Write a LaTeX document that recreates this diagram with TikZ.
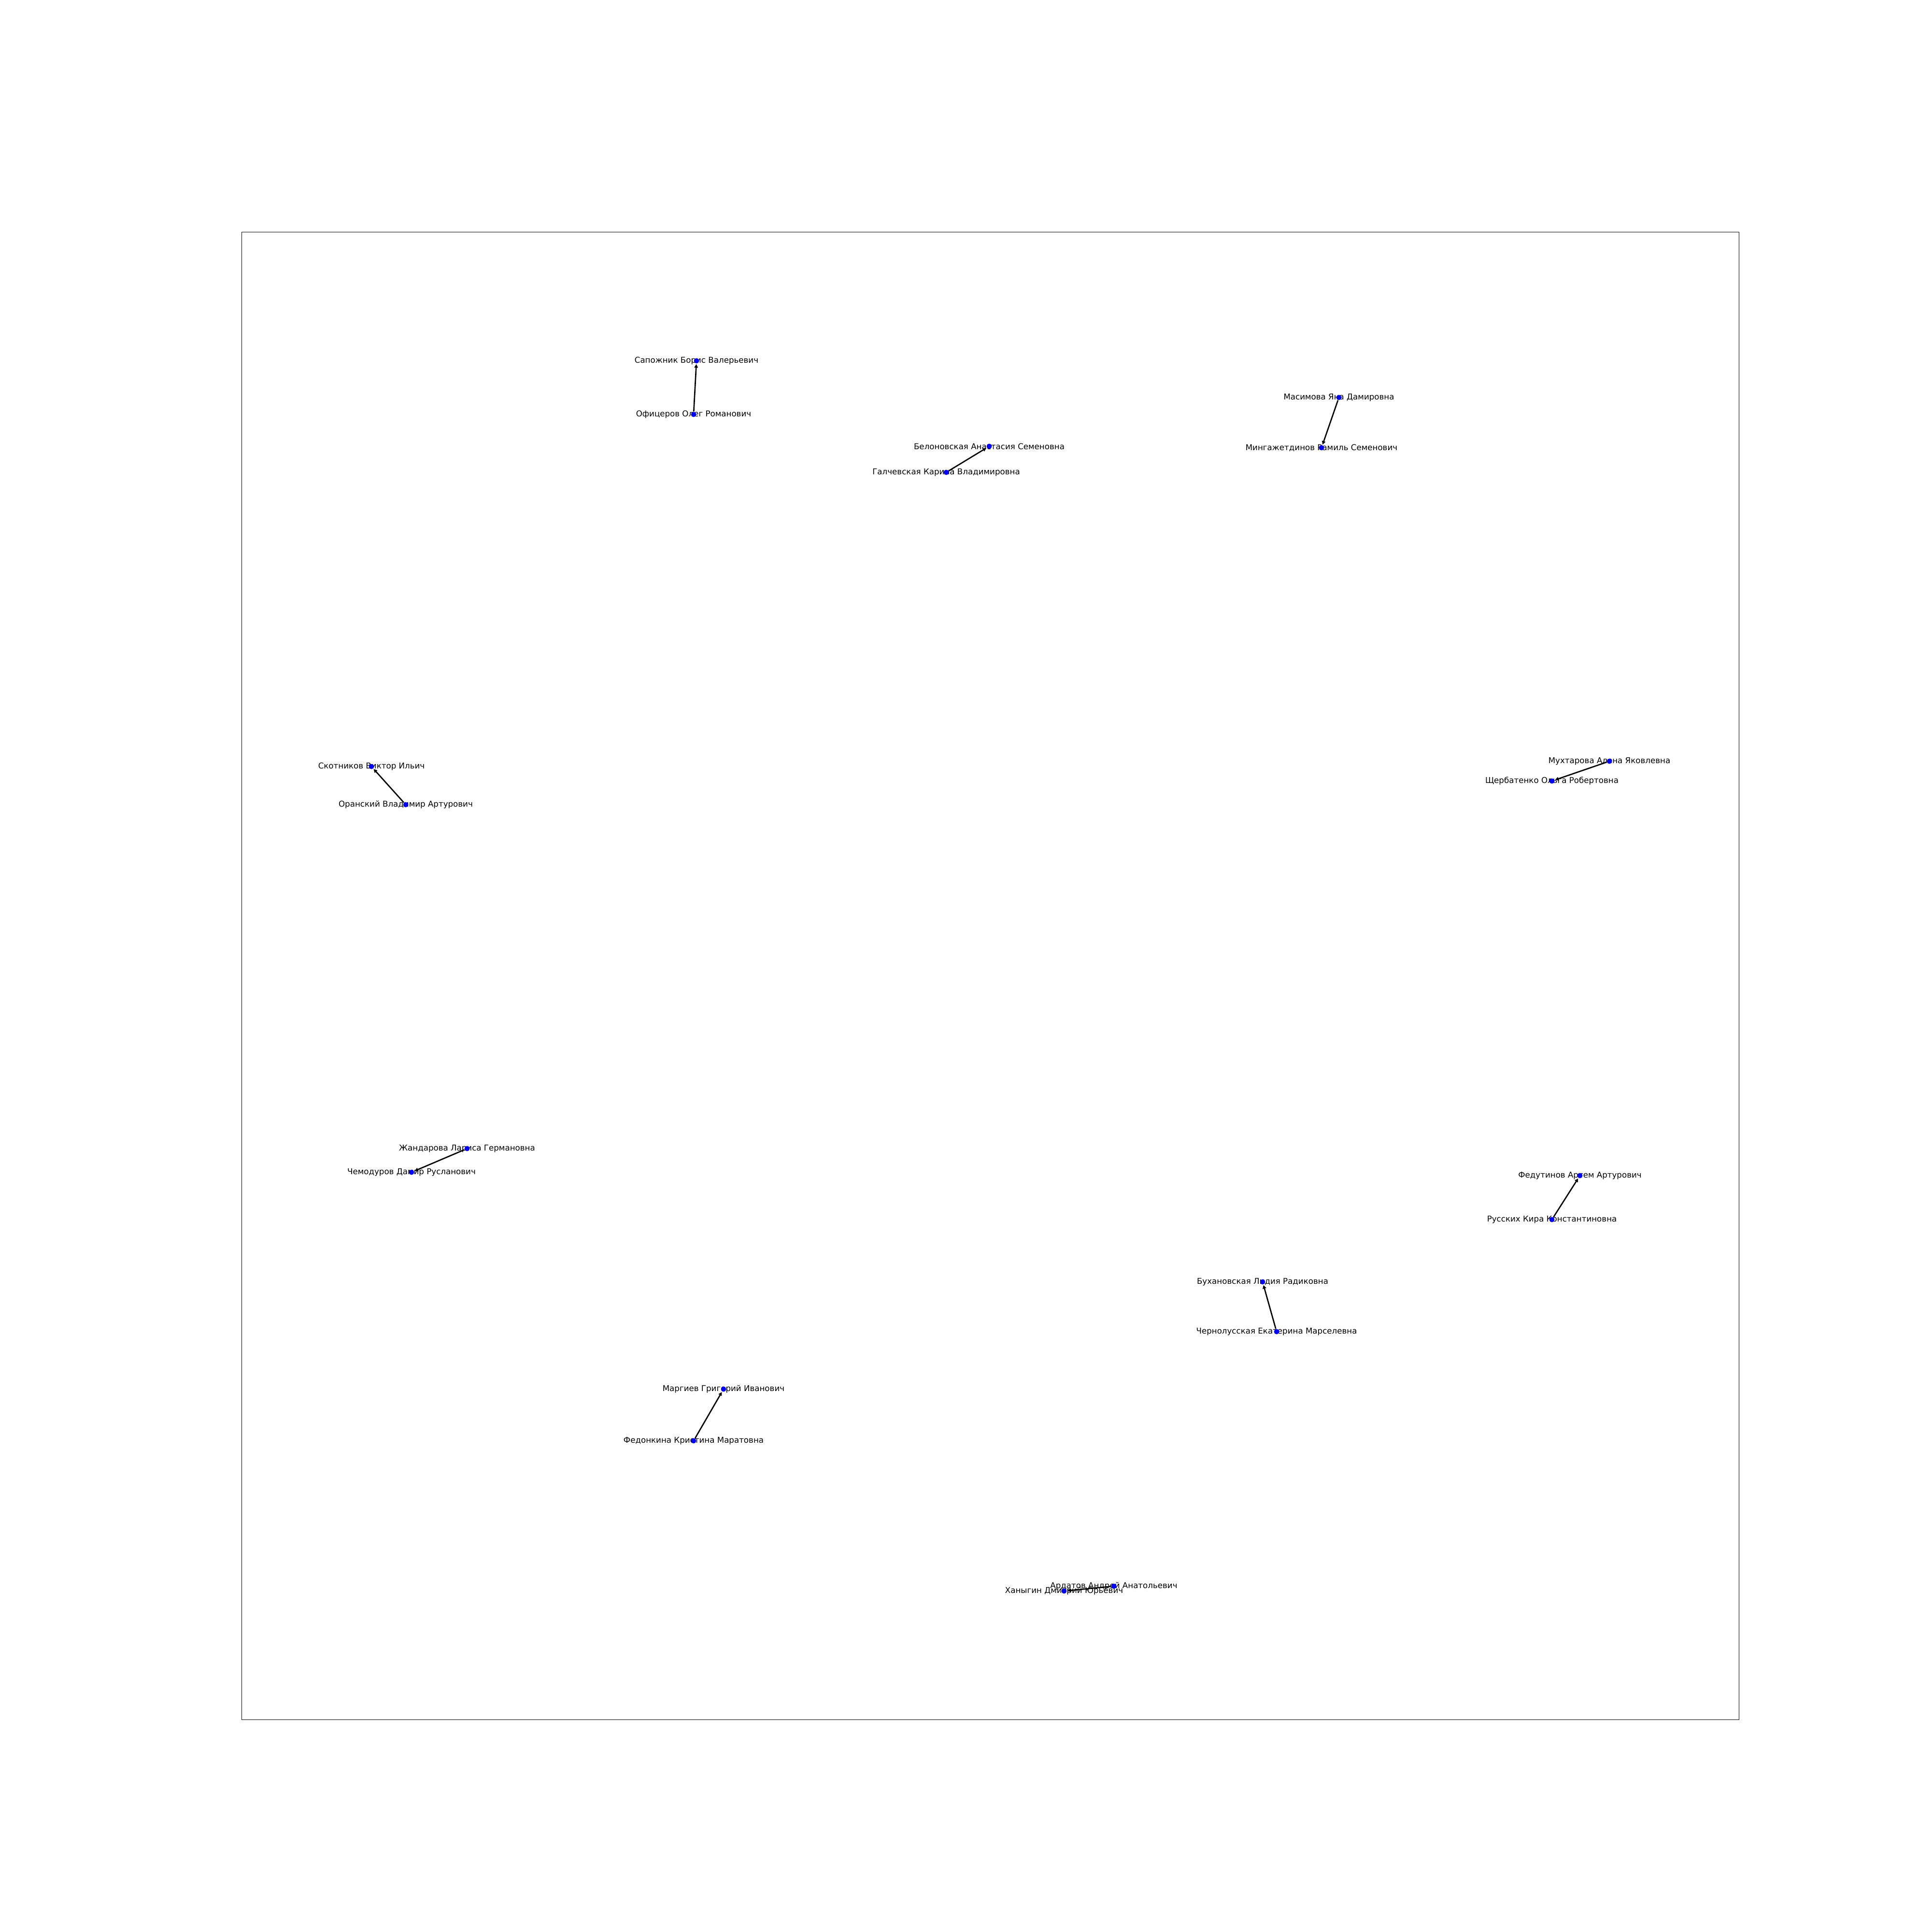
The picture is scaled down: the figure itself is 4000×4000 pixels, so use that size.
\documentclass[tikz,border=0pt]{standalone}
\usepackage{fontspec}
\setmainfont{DejaVu Sans}
\usetikzlibrary{arrows.meta}
\begin{document}
\begin{tikzpicture}[x=0.01cm,y=-0.01cm,
  dot/.style={circle,fill=blue,inner sep=0pt,minimum size=3.1pt},
  lbl/.style={inner sep=0pt,font=\fontsize{4.74}{5.7}\selectfont,text=black},
  edge/.style={line width=0.75pt,black,-{Triangle[length=2.1pt,width=2.1pt]},shorten >=0.2pt}]
\useasboundingbox (0,0) rectangle (4000,4000);
\fill[white] (0,0) rectangle (4000,4000);
\draw[line width=0.28pt] (500,480) rectangle (3600,3560);
% labels
\node[lbl] (lsap) at (1442,747) {Сапожник Борис Валерьевич};
\node[lbl] (lofi) at (1436,858) {Офицеров Олег Романович};
\node[lbl] (lbel) at (2048,924) {Белоновская Анастасия Семеновна};
\node[lbl] (lgal) at (1959,978) {Галчевская Карина Владимировна};
\node[lbl] (lmas) at (2772,823) {Масимова Яна Дамировна};
\node[lbl] (lmin) at (2736,927) {Мингажетдинов Рамиль Семенович};
\node[lbl] (lsko) at (769,1587) {Скотников Виктор Ильич};
\node[lbl] (lora) at (840,1666) {Оранский Владимир Артурович};
\node[lbl] (lmuh) at (3332,1576) {Мухтарова Алена Яковлевна};
\node[lbl] (lshc) at (3213,1617) {Щербатенко Ольга Робертовна};
\node[lbl] (lzha) at (967,2378) {Жандарова Лариса Германовна};
\node[lbl] (lche) at (852,2427) {Чемодуров Дамир Русланович};
\node[lbl] (lfed) at (3271,2434) {Федутинов Артем Артурович};
\node[lbl] (lrus) at (3213,2525) {Русских Кира Константиновна};
\node[lbl] (lbuh) at (2614,2654) {Бухановская Лидия Радиковна};
\node[lbl] (lchr) at (2643,2757) {Чернолусская Екатерина Марселевна};
\node[lbl] (lmar) at (1498,2876) {Маргиев Григорий Иванович};
\node[lbl] (lfdn) at (1436,2983) {Федонкина Кристина Маратовна};
\node[lbl] (lard) at (2306,3284) {Ардатов Андрей Анатольевич};
\node[lbl] (lhan) at (2203,3294) {Ханыгин Дмитрий Юрьевич};
% dots
\node[dot] (sap) at (1442,747) {};
\node[dot] (ofi) at (1436,858) {};
\node[dot] (bel) at (2048,924) {};
\node[dot] (gal) at (1959,978) {};
\node[dot] (mas) at (2772,823) {};
\node[dot] (min) at (2736,927) {};
\node[dot] (sko) at (769,1587) {};
\node[dot] (ora) at (840,1666) {};
\node[dot] (muh) at (3332,1576) {};
\node[dot] (shc) at (3213,1617) {};
\node[dot] (zha) at (967,2378) {};
\node[dot] (che) at (852,2427) {};
\node[dot] (fed) at (3271,2434) {};
\node[dot] (rus) at (3213,2525) {};
\node[dot] (buh) at (2614,2654) {};
\node[dot] (chr) at (2643,2757) {};
\node[dot] (mar) at (1498,2876) {};
\node[dot] (fdn) at (1436,2983) {};
\node[dot] (ard) at (2306,3284) {};
\node[dot] (han) at (2203,3294) {};
% edges
\draw[edge] (ofi) -- (sap);
\draw[edge] (gal) -- (bel);
\draw[edge] (mas) -- (min);
\draw[edge] (ora) -- (sko);
\draw[edge] (muh) -- (shc);
\draw[edge] (zha) -- (che);
\draw[edge] (rus) -- (fed);
\draw[edge] (chr) -- (buh);
\draw[edge] (fdn) -- (mar);
\draw[edge] (ard) -- (han);
\end{tikzpicture}
\end{document}
